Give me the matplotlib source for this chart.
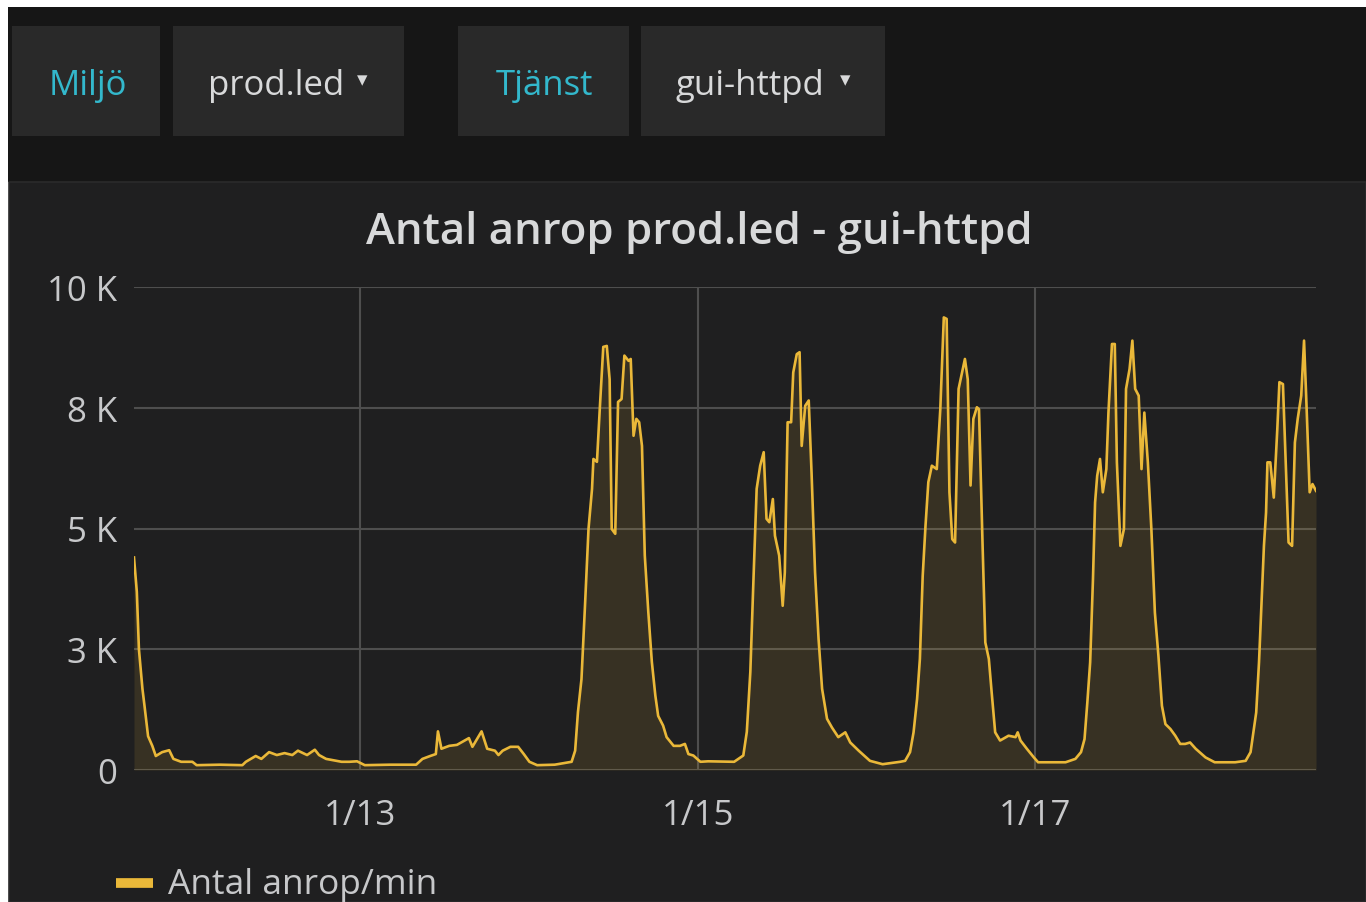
import matplotlib
matplotlib.use('Agg')
import matplotlib.pyplot as plt
from matplotlib.patches import Rectangle
from matplotlib.lines import Line2D

# ---------------- data (hours since 1/11 00:00, calls per minute) ----------------
hours = [15.9, 16.3, 16.6, 17.1, 17.4, 17.9, 18.5, 19.0, 19.9, 20.9, 21.5, 22.6, 24.2, 24.8,
         28.1, 31.3, 31.8, 33.2, 34.0, 35.1, 36.2, 37.3, 38.4, 39.2, 40.5, 41.6, 42.2, 43.2,
         44.3, 45.4, 46.5, 47.6, 48.7, 52.3, 56.0, 56.9, 58.0, 58.8, 59.1, 59.6, 60.7, 61.8,
         63.5, 64.0, 65.3, 66.1, 67.2, 67.7, 68.3, 69.4, 70.5, 71.3, 72.1, 73.2, 75.7, 78.1,
         78.6, 79.0, 79.5, 80.0, 80.5, 81.0, 81.2, 81.7, 82.1, 82.6, 83.1, 83.5, 83.8, 84.3,
         84.7, 85.2, 85.6, 86.2, 86.5, 86.9, 87.3, 87.7, 88.1, 88.5, 89.0, 89.5, 90.0, 90.4,
         91.1, 91.6, 92.6, 93.5, 94.2, 94.7, 95.4, 96.4, 97.5, 101.2,
         102.5, 103.0, 103.5, 103.9, 104.4, 104.9, 105.4, 105.8, 106.2, 106.7, 107.0, 107.6,
         108.1, 108.4, 108.8, 109.3, 109.6, 110.1, 110.5, 110.8, 111.3, 111.8, 112.2, 112.7,
         113.2, 113.7, 114.4, 115.1, 116.0, 117.0, 117.7, 118.9, 120.5, 122.3, 124.8,
         125.5, 126.2, 126.7, 127.2, 127.6, 128.0, 128.4, 128.8, 129.3, 130.0, 130.5, 131.0,
         131.4, 131.8, 132.2, 132.6, 133.1, 133.6, 134.0, 134.4, 134.8, 135.2, 135.7, 136.0,
         136.5, 136.9, 137.4, 137.8, 138.3, 139.0, 140.2, 141.2, 141.5, 141.9, 142.8, 143.8,
         144.4, 146.5, 148.3,
         149.7, 150.5, 151.0, 151.4, 151.8, 152.2, 152.5, 152.8, 153.2, 153.6, 154.1, 154.4,
         154.9, 155.3, 155.6, 156.1, 156.6, 156.9, 157.4, 157.8, 158.2, 158.7, 159.1, 159.5,
         160.0, 160.5, 161.0, 161.5, 162.0, 162.5, 163.2, 163.9, 164.6, 165.3, 166.0, 166.8,
         168.2, 169.5, 172.4,
         173.9, 174.6, 175.0, 175.4, 175.8, 176.1, 176.5, 176.8, 177.0, 177.4, 177.9, 178.4,
         178.7, 179.2, 179.6, 180.0, 180.5, 180.9, 181.3, 181.8, 182.2, 182.5, 183.0, 183.4,
         183.9]
calls = [4400, 3690, 2500, 1680, 1320, 700, 500, 290, 370, 410, 230, 170, 170, 100,
         110, 100, 170, 290, 230, 370, 310, 350, 310, 400, 310, 420, 310, 230,
         200, 170, 170, 180, 100, 110, 110, 230, 290, 330, 800, 440, 500, 520,
         660, 480, 800, 440, 400, 310, 400, 480, 480, 330, 170, 100, 110, 170,
         400, 1200, 1880, 3400, 4990, 5820, 6440, 6380, 7470, 8760, 8780, 8090, 4990, 4890,
         7620, 7680, 8580, 8470, 8510, 6920, 7270, 7200, 6710, 4440, 3270, 2240, 1540, 1120,
         920, 680, 500, 500, 540, 330, 300, 170, 180, 170,
         300, 790, 2030, 3750, 5820, 6300, 6580, 5200, 5130, 5610, 4850, 4440,
         3400, 4090, 7200, 7200, 8230, 8610, 8650, 6710, 7540, 7650, 6160, 4090,
         2710, 1680, 1060, 880, 680, 780, 570, 400, 190, 120, 170,
         190, 370, 780, 1470, 2300, 4020, 5060, 5960, 6300, 6230, 7470, 9370,
         9340, 5750, 4780, 4710, 7890, 8230, 8510, 8090, 5890, 7270, 7510, 7470,
         4710, 2640, 2300, 1610, 780, 610, 710, 680, 780, 610, 440, 260,
         160, 160, 160,
         230, 370, 640, 1400, 2230, 3950, 5540, 6090, 6440, 5750, 6230, 7400,
         8820, 8820, 6370, 4640, 4990, 7890, 8300, 8890, 7890, 7750, 6230, 7400,
         6370, 4990, 3260, 2370, 1330, 950, 850, 710, 540, 540, 570, 440,
         260, 160, 160,
         190, 370, 780, 1190, 2230, 3260, 4640, 5330, 6370, 6370, 5640, 7060,
         8030, 7990, 6370, 4710, 4640, 6780, 7270, 7750, 8890, 7750, 5750, 5920,
         5780]

y_ticks = [0, 2500, 5000, 7500, 10000]
y_tick_labels = ['0', '3 K', '5 K', '8 K', '10 K']
x_ticks = [48, 96, 144]
x_tick_labels = ['1/13', '1/15', '1/17']
title = 'Antal anrop prod.led - gui-httpd'
series_name = 'Antal anrop/min'
filter_names = ['Miljö', 'Tjänst']
filter_values = ['prod.led', 'gui-httpd']

# ---------------- styling ----------------
W, H = 1366, 903
FONT = ['Open Sans', 'DejaVu Sans']
plt.rcParams['font.family'] = FONT
YELLOW = '#eab839'
TEXT = '#d8d9da'
TICK = '#c7c8ca'
TEAL = '#33b8cc'

fig = plt.figure(figsize=(W / 100, H / 100), dpi=100, facecolor='white')


def fx(px):
    return px / W


def fy(py):
    return 1 - py / H


def rect(x0, y0, x1, y1, color, edge=None):
    fig.patches.append(Rectangle((fx(x0), fy(y1)), fx(x1) - fx(x0), fy(y0) - fy(y1),
                                 transform=fig.transFigure, facecolor=color,
                                 edgecolor=edge if edge else color, linewidth=1.2 if edge else 0,
                                 zorder=-10))


# top bar and panel
rect(8, 8, W, 183, '#161616')
rect(9, 183, W, H, '#1f1f20', edge='#2b2b2b')

# filter buttons
rect(12, 27, 160, 137, '#292929')
rect(173, 27, 404, 137, '#292929')
rect(458, 27, 629, 137, '#292929')
rect(641, 27, 885, 137, '#292929')
fig.text(fx(88), fy(95), filter_names[0], color=TEAL, fontsize=25, ha='center', va='baseline')
fig.text(fx(276), fy(95), filter_values[0], color=TEXT, fontsize=25, ha='center', va='baseline')
fig.text(fx(362), fy(86), '▾', color=TEXT, fontsize=15, ha='center', va='baseline',
         family=['DejaVu Sans'])
fig.text(fx(545), fy(95), filter_names[1], color=TEAL, fontsize=25, ha='center', va='baseline')
fig.text(fx(750), fy(95), filter_values[1], color=TEXT, fontsize=25, ha='center', va='baseline')
fig.text(fx(845), fy(86), '▾', color=TEXT, fontsize=15, ha='center', va='baseline',
         family=['DejaVu Sans'])

# title
fig.text(fx(699), fy(244), title, color=TEXT, fontsize=31.5, fontweight='semibold',
         ha='center', va='baseline')

# plot area
ax = fig.add_axes([fx(134), fy(771), fx(1316) - fx(134), fy(288) - fy(771)])
ax.set_zorder(5)
ax.set_facecolor('none')
ax.fill_between(hours, calls, 0, color=YELLOW, alpha=0.12, linewidth=0, zorder=2)
ax.plot(hours, calls, color=YELLOW, linewidth=1.9, zorder=3)
ax.set_xlim(hours[0], hours[-1])
ax.set_ylim(0, 10000)
ax.set_yticks(y_ticks)
ax.set_yticklabels(y_tick_labels)
ax.set_xticks(x_ticks)
ax.set_xticklabels(x_tick_labels)
ax.tick_params(axis='both', length=0, colors=TICK, labelsize=25)
ax.tick_params(axis='y', pad=12)
ax.tick_params(axis='x', pad=20)
ax.grid(True, color='#4e4e4e', linewidth=1.5, zorder=1)
ax.set_axisbelow(True)
for s in ax.spines.values():
    s.set_visible(False)

# legend
fig.lines.append(Line2D([fx(116), fx(153)], [fy(884), fy(884)], transform=fig.transFigure,
                        color=YELLOW, linewidth=7, solid_capstyle='butt'))
fig.text(fx(168), fy(894), series_name, color=TICK, fontsize=25.5, ha='left', va='baseline')

fig.savefig('out.png', dpi=100, facecolor='white')
